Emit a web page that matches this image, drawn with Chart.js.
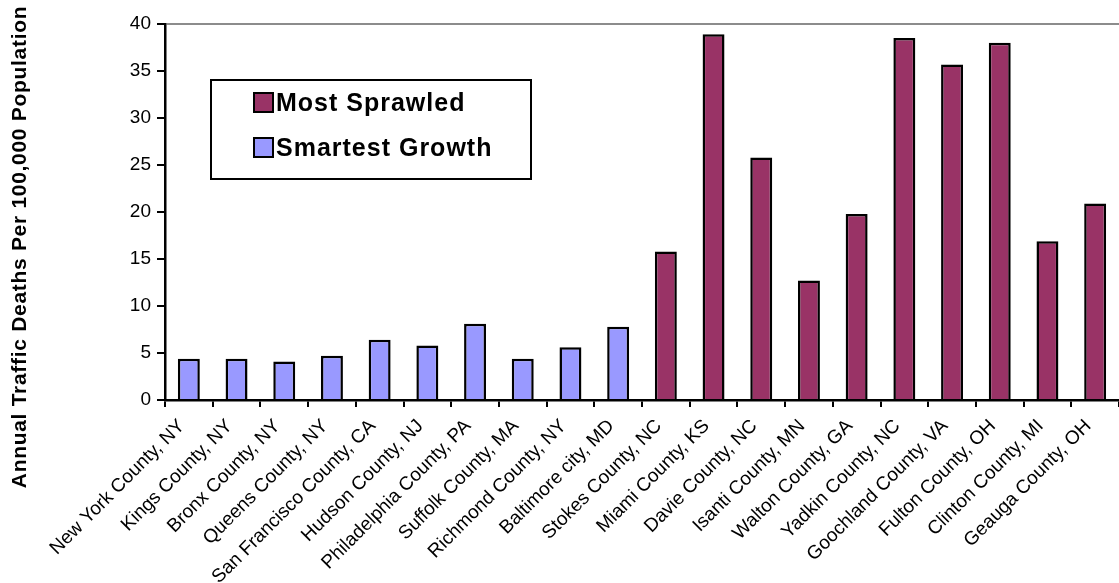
<!DOCTYPE html>
<html>
<head>
<meta charset="utf-8">
<script src="https://cdn.jsdelivr.net/npm/chart.js@4/dist/chart.umd.min.js"></script>
<style>
  html, body { margin: 0; padding: 0; background: #fff; }
  #wrap { width: 1119px; height: 583px; position: relative; }
</style>
</head>
<body>
<div id="wrap"><canvas id="deaths-chart"></canvas></div>
<script>
const counties = [
  'New York County, NY', 'Kings County, NY', 'Bronx County, NY', 'Queens County, NY',
  'San Francisco County, CA', 'Hudson County, NJ', 'Philadelphia County, PA',
  'Suffolk County, MA', 'Richmond County, NY', 'Baltimore city, MD',
  'Stokes County, NC', 'Miami County, KS', 'Davie County, NC', 'Isanti County, MN',
  'Walton County, GA', 'Yadkin County, NC', 'Goochland County, VA',
  'Fulton County, OH', 'Clinton County, MI', 'Geauga County, OH'
];

// null where the county belongs to the other group
const mostSprawled = [
  null, null, null, null, null, null, null, null, null, null,
  15.8, 38.9, 25.8, 12.7, 19.8, 38.5, 35.7, 38.0, 16.9, 20.9
];
const smartestGrowth = [
  4.4, 4.4, 4.1, 4.7, 6.4, 5.8, 8.1, 4.4, 5.6, 7.8,
  null, null, null, null, null, null, null, null, null, null
];

const yTitle = 'Annual Traffic Deaths Per 100,000 Population';
const FONT = '"Liberation Sans", Arial, sans-serif';

// boxed legend sitting inside the plot area, plus the rotated y title
const extras = {
  id: 'extras',
  afterDraw(chart) {
    const ctx = chart.ctx;
    ctx.save();

    // y axis title
    ctx.translate(20, 247);
    ctx.rotate(-Math.PI / 2);
    ctx.font = 'bold 21px ' + FONT;
    ctx.letterSpacing = '0.7px';
    ctx.fillStyle = '#000';
    ctx.textAlign = 'center';
    ctx.textBaseline = 'middle';
    ctx.fillText(yTitle, 0, 0);
    ctx.restore();

    // legend box
    ctx.save();
    ctx.fillStyle = '#fff';
    ctx.strokeStyle = '#000';
    ctx.lineWidth = 2;
    ctx.fillRect(211, 80, 320, 99);
    ctx.strokeRect(211, 80, 320, 99);
    ctx.font = 'bold 25px ' + FONT;
    ctx.letterSpacing = '1px';
    ctx.textBaseline = 'middle';
    chart.data.datasets.forEach((ds, i) => {
      const y = 93 + i * 45;
      ctx.fillStyle = ds.backgroundColor;
      ctx.fillRect(254, y, 19, 19);
      ctx.strokeRect(254, y, 19, 19);
      ctx.fillStyle = '#000';
      ctx.fillText(ds.label, 276, y + 11);
    });
    ctx.restore();
  }
};

new Chart(document.getElementById('deaths-chart'), {
  type: 'bar',
  data: {
    labels: counties,
    datasets: [
      {
        label: 'Most Sprawled',
        data: mostSprawled,
        backgroundColor: '#993366',
        borderColor: '#000',
        borderWidth: 2.5
      },
      {
        label: 'Smartest Growth',
        data: smartestGrowth,
        backgroundColor: '#9999FF',
        borderColor: '#000',
        borderWidth: 2.5
      }
    ]
  },
  options: {
    responsive: true,
    maintainAspectRatio: false,
    animation: false,
    skipNull: true,
    categoryPercentage: 1,
    barPercentage: 0.46,
    layout: { padding: { top: 24, left: 0, right: 0, bottom: 0 } },
    plugins: {
      legend: { display: false },
      tooltip: { enabled: false }
    },
    scales: {
      x: {
        grid: {
          offset: true,
          drawOnChartArea: false,
          color: '#000',
          lineWidth: 2,
          tickLength: 7
        },
        border: { display: true, color: '#000', width: 2.5 },
        ticks: {
          color: '#000',
          font: { family: FONT, size: 19 },
          minRotation: 45,
          maxRotation: 45,
          autoSkip: false,
          padding: 8,
          labelOffset: -7
        },
        afterFit(s) {
          s.height = 183;
          s.paddingLeft = 0;
          s.paddingRight = 0;
        }
      },
      y: {
        min: 0,
        max: 40,
        ticks: {
          stepSize: 5,
          color: '#000',
          font: { family: FONT, size: 19 },
          padding: 6
        },
        grid: {
          color: c => (c.tick && c.tick.value === 40 ? '#8c8c8c' : 'rgba(0,0,0,0)'),
          tickColor: '#000',
          lineWidth: 2,
          tickLength: 8
        },
        border: { display: true, color: '#000', width: 2.5 },
        afterFit(s) {
          s.width = 165;
        }
      }
    }
  },
  plugins: [extras]
});
</script>
</body>
</html>
